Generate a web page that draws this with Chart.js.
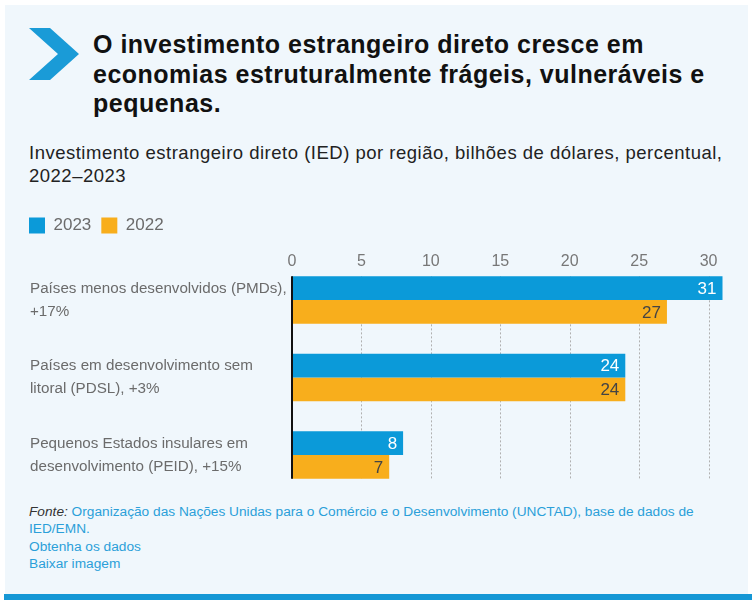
<!DOCTYPE html>
<html>
<head>
<meta charset="utf-8">
<script src="https://cdn.jsdelivr.net/npm/chart.js@4"></script>
<style>
  html, body { margin: 0; padding: 0; background: #fff; }
  body { width: 752px; height: 600px; position: relative; overflow: hidden; font-family: "Liberation Sans", Arial, sans-serif; }
  #panel { position: absolute; left: 5px; top: 5px; width: 743px; height: 589px; background: #f0f7fc; }
  #bottomBar { position: absolute; left: 4px; top: 594px; width: 748px; height: 6px; background: #1597d5; }
  #chevron { position: absolute; left: 0; top: 0; }
  h1 { position: absolute; left: 93px; top: 30px; margin: 0; font-size: 25px; letter-spacing: 0.5px; line-height: 29.5px; font-weight: bold; color: #111; white-space: nowrap; }
  #subtitle { position: absolute; left: 29px; top: 141px; font-size: 18.5px; letter-spacing: 0.5px; line-height: 23px; color: #222; white-space: nowrap; }
  #chartBox { position: absolute; left: 0; top: 200px; width: 752px; height: 300px; }
  #footer { position: absolute; left: 29px; top: 503px; font-size: 13.7px; line-height: 17.4px; color: #2b9fd9; white-space: nowrap; }
  #footer i { color: #333; }
</style>
</head>
<body>
<div id="panel"></div>
<div id="bottomBar"></div>
<svg id="chevron" width="100" height="100"><polygon points="29,28 50,28 79,54 50,80 29,80 58,54" fill="#1a9bd7"/></svg>
<h1>O investimento estrangeiro direto cresce em<br>economias estruturalmente frágeis, vulneráveis e<br>pequenas.</h1>
<div id="subtitle">Investimento estrangeiro direto (IED) por região, bilhões de dólares, percentual,<br>2022–2023</div>
<div id="chartBox"><canvas id="myChart"></canvas></div>
<div id="footer"><i>Fonte:</i> Organização das Nações Unidas para o Comércio e o Desenvolvimento (UNCTAD), base de dados de<br>IED/EMN.<br>Obtenha os dados<br>Baixar imagem</div>

<script>
// Data
const categories = [
  ["Países menos desenvolvidos (PMDs),", "+17%"],
  ["Países em desenvolvimento sem", "litoral (PDSL), +3%"],
  ["Pequenos Estados insulares em", "desenvolvimento (PEID), +15%"]
];
const seriesNames = ["2023", "2022"];
const values2023 = [31, 24, 8];
const values2022 = [27, 24, 7];
const xTicks = [0, 5, 10, 15, 20, 25, 30];

const font = '"Liberation Sans", Arial, sans-serif';

// dotted grid + black zero line, only over the bar band
function barBand(chart) {
  const first = chart.getDatasetMeta(0).data[0];
  const last = chart.getDatasetMeta(1).data[categories.length - 1];
  return [first.y - first.height / 2, last.y + last.height / 2];
}

const gridLines = {
  id: "gridLines",
  afterLayout(chart) {
    // legend sits a bit left of the category labels
    chart.legend.left -= 11;
  },
  beforeDatasetsDraw(chart) {
    const { ctx, scales: { x } } = chart;
    const [top, bottom] = barBand(chart);
    ctx.save();
    ctx.strokeStyle = "#b0b0b0";
    ctx.lineWidth = 1;
    ctx.setLineDash([2, 2]);
    xTicks.slice(1).forEach((v) => {
      const px = Math.round(x.getPixelForValue(v)) + 0.5;
      ctx.beginPath();
      ctx.moveTo(px, top);
      ctx.lineTo(px, bottom);
      ctx.stroke();
    });
    ctx.restore();
  },
  afterDatasetsDraw(chart) {
    const { ctx, scales: { x } } = chart;
    const [top, bottom] = barBand(chart);
    const x0 = x.getPixelForValue(0);
    ctx.save();
    ctx.strokeStyle = "#111";
    ctx.lineWidth = 2;
    ctx.beginPath();
    ctx.moveTo(x0, top);
    ctx.lineTo(x0, bottom);
    ctx.stroke();
    ctx.restore();
  }
};

// value labels inside bar ends
const valueLabels = {
  id: "valueLabels",
  afterDatasetsDraw(chart) {
    const ctx = chart.ctx;
    ctx.save();
    ctx.font = "17px " + font;
    ctx.textAlign = "right";
    ctx.textBaseline = "middle";
    chart.data.datasets.forEach((ds, i) => {
      chart.getDatasetMeta(i).data.forEach((bar, j) => {
        ctx.fillStyle = i === 0 ? "#ffffff" : "#444444";
        ctx.fillText(ds.data[j], bar.x - 6, bar.y + 1);
      });
    });
    ctx.restore();
  }
};

const data = {
  labels: categories,
  datasets: [
    {
      label: seriesNames[0],
      data: values2023,
      backgroundColor: "#0b9ad9",
      barPercentage: 1,
      categoryPercentage: 0.61,
      clip: false
    },
    {
      label: seriesNames[1],
      data: values2022,
      backgroundColor: "#f8ae1c",
      barPercentage: 1,
      categoryPercentage: 0.61,
      clip: false
    }
  ]
};

const config = {
  type: "bar",
  data: data,
  plugins: [gridLines, valueLabels],
  options: {
    indexAxis: "y",
    responsive: false,
    animation: false,
    layout: { padding: { left: 30, right: 29.5, top: 7, bottom: 45 } },
    plugins: {
      legend: {
        position: "top",
        align: "start",
        labels: {
          boxWidth: 16,
          boxHeight: 16,
          padding: 10,
          color: "#6b6b6b",
          font: { family: font, size: 17 }
        }
      },
      tooltip: { enabled: false }
    },
    scales: {
      x: {
        position: "top",
        min: 0,
        max: 31,
        afterBuildTicks: (scale) => { scale.ticks = xTicks.map((v) => ({ value: v })); },
        afterFit: (scale) => { scale.height = 56; },
        grid: { display: false, drawTicks: false },
        border: { display: false },
        ticks: { padding: 28.4, color: "#777", font: { family: font, size: 16 } }
      },
      y: {
        offset: false,
        afterFit: (scale) => {
          scale.width = 262;
          scale.paddingTop = 0;
          scale.paddingBottom = 0;
        },
        grid: { display: false },
        border: { display: false },
        ticks: { crossAlign: "far", color: "#6b6b6b", font: { family: font, size: 15.2, lineHeight: 1.5 } }
      }
    }
  }
};

const canvas = document.getElementById("myChart");
canvas.width = 752;
canvas.height = 300;
const myChart = new Chart(canvas.getContext("2d"), config);
</script>
</body>
</html>
